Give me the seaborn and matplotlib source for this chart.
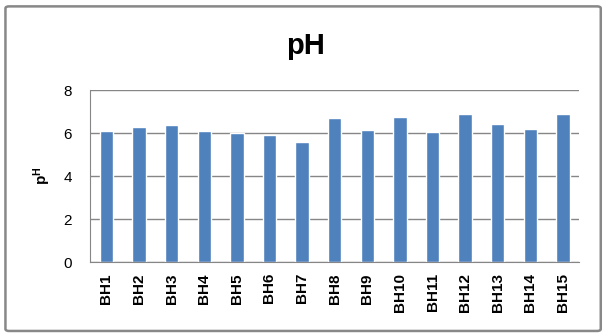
import numpy as np
import pandas as pd
import matplotlib
matplotlib.use('Agg')
import matplotlib.pyplot as plt
from matplotlib.patches import FancyBboxPatch
import seaborn as sns

sns.set_style('white')
plt.rcParams['font.family'] = ['Liberation Sans', 'DejaVu Sans']
plt.rcParams['mathtext.fontset'] = 'custom'
plt.rcParams['mathtext.rm'] = 'Liberation Sans'
plt.rcParams['mathtext.bf'] = 'Liberation Sans:bold'
plt.rcParams['text.color'] = 'black'
plt.rcParams['axes.labelcolor'] = 'black'
plt.rcParams['xtick.color'] = 'black'
plt.rcParams['ytick.color'] = 'black'

# data
boreholes = ['BH1', 'BH2', 'BH3', 'BH4', 'BH5', 'BH6', 'BH7', 'BH8',
             'BH9', 'BH10', 'BH11', 'BH12', 'BH13', 'BH14', 'BH15']
ph_values = [6.09, 6.28, 6.37, 6.09, 6.0, 5.91, 5.58, 6.70,
             6.14, 6.74, 6.05, 6.88, 6.42, 6.19, 6.88]
yticks = [0, 2, 4, 6, 8]

df = pd.DataFrame({'borehole': boreholes, 'ph': ph_values})

fig = plt.figure(figsize=(6.05, 3.36), dpi=100)
ax = fig.add_axes([0.149, 0.2202, 0.8085, 0.5118])

sns.barplot(data=df, x='borehole', y='ph', color='#4F81BD', saturation=1,
            width=0.41, ax=ax)

ax.set_ylim(0, 8)
ax.set_xlim(-0.5, len(boreholes) - 0.5)
ax.set_yticks(yticks)
ax.set_yticklabels([str(t) for t in yticks], fontsize=11)
ax.grid(axis='y', color='#868686', linewidth=1)
ax.set_axisbelow(True)
for s in ['top', 'right']:
    ax.spines[s].set_visible(False)
ax.spines['left'].set_color('#868686')
ax.spines['bottom'].set_color('#868686')
ax.tick_params(axis='both', length=0)
ax.tick_params(axis='y', pad=13)
ax.tick_params(axis='x', pad=8)
plt.setp(ax.get_xticklabels(), rotation=90, fontsize=11, fontweight='bold')

ax.set_xlabel('')
ax.set_ylabel(r'$\mathbf{p^{H}}$', fontsize=11)
ax.yaxis.set_label_coords(-0.076, 0.5)

fig.text(0.505, 0.862, 'pH', ha='center', va='center', fontsize=21,
         fontweight='bold')

border = FancyBboxPatch((0.009, 0.015), 0.984, 0.966,
                        boxstyle='round,pad=0,rounding_size=0.006',
                        transform=fig.transFigure, fill=False,
                        edgecolor='#888888', linewidth=1.8)
fig.patches.append(border)

fig.savefig('out.png', dpi=100)
